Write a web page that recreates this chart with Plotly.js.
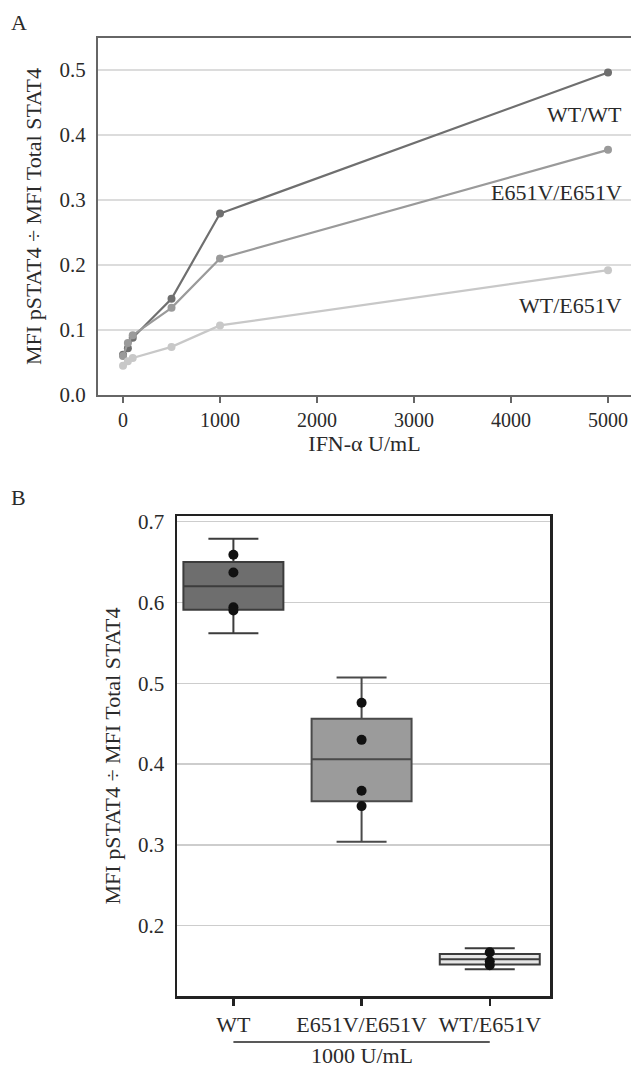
<!DOCTYPE html>
<html>
<head>
<meta charset="utf-8">
<script src="https://cdn.plot.ly/plotly-3.0.1.min.js"></script>
<style>html,body{margin:0;padding:0;background:#fff;}#chart{width:631px;height:1068px;}</style>
</head>
<body>
<div id="chart"></div>
<script>
// Panel A: dose response
const doses = [0, 50, 100, 500, 1000, 5000];
const wtWt = [0.062, 0.072, 0.088, 0.148, 0.279, 0.496];
const homMut = [0.060, 0.080, 0.092, 0.134, 0.210, 0.377];
const hetMut = [0.045, 0.052, 0.057, 0.074, 0.107, 0.192];
const seriesNames = ['WT/WT', 'E651V/E651V', 'WT/E651V'];

// Panel B: box plots at 1000 U/mL
const groups = ['WT', 'E651V/E651V', 'WT/E651V'];
const q1 = [0.591, 0.354, 0.152];
const medians = [0.620, 0.406, 0.1585];
const q3 = [0.650, 0.456, 0.165];
const lowerFence = [0.562, 0.304, 0.146];
const upperFence = [0.679, 0.507, 0.172];
const wtPoints = [0.659, 0.637, 0.594, 0.590];
const homPoints = [0.476, 0.430, 0.367, 0.348];
const hetPoints = [0.167, 0.156, 0.151];

const FONT = 'Liberation Serif, Times New Roman, serif';
const TXT = '#2a2a2a';
const H = 1068, W = 631;
const py = v => 1 - v / H;
const px = v => v / W;

const lineColors = ['#6f6f6f', '#9a9a9a', '#c8c8c8'];
const lineData = [wtWt, homMut, hetMut];
const traces = lineData.map((ys, i) => ({
  type: 'scatter', mode: 'lines+markers', x: doses, y: ys, name: seriesNames[i],
  xaxis: 'x', yaxis: 'y',
  line: {color: lineColors[i], width: 2.2},
  marker: {color: lineColors[i], size: 8},
  showlegend: false, hoverinfo: 'skip'
}));

const boxFill = ['#6e6e6e', '#9b9b9b', '#e6e6e6'];
const boxLine = ['#3c3c3c', '#4a4a4a', '#3c3c3c'];
groups.forEach((g, i) => {
  traces.push({
    type: 'box', xaxis: 'x2', yaxis: 'y2', x: [g],
    q1: [q1[i]], median: [medians[i]], q3: [q3[i]],
    lowerfence: [lowerFence[i]], upperfence: [upperFence[i]],
    fillcolor: boxFill[i], line: {color: boxLine[i], width: 2},
    width: 0.78, whiskerwidth: 0.5, boxpoints: false,
    showlegend: false, hoverinfo: 'skip'
  });
});
const ptsAll = [wtPoints, homPoints, hetPoints];
ptsAll.forEach((pts, i) => {
  traces.push({
    type: 'scatter', mode: 'markers', xaxis: 'x2', yaxis: 'y2',
    x: pts.map(() => groups[i]), y: pts,
    marker: {color: '#111', size: 10},
    showlegend: false, hoverinfo: 'skip'
  });
});

const layout = {
  width: W, height: H,
  margin: {l: 0, r: 0, t: 0, b: 0},
  paper_bgcolor: '#fff', plot_bgcolor: '#fff',
  font: {family: FONT, color: TXT, size: 21},
  showlegend: false,
  boxmode: 'overlay',
  xaxis: {
    domain: [px(98), 1], anchor: 'y',
    range: [-258, 5237], tickvals: [0, 1000, 2000, 3000, 4000, 5000],
    ticks: 'outside', ticklen: 6, tickwidth: 2, tickcolor: '#666',
    showline: true, linecolor: '#666', linewidth: 2, mirror: true,
    showgrid: false, zeroline: false,
    tickfont: {family: FONT, size: 20, color: TXT},
    title: {text: 'IFN-α U/mL', font: {family: FONT, size: 22, color: TXT}, standoff: 5}
  },
  yaxis: {
    domain: [py(395), py(38)], anchor: 'x',
    range: [0, 0.549], tickvals: [0, 0.1, 0.2, 0.3, 0.4, 0.5], tickformat: '.1f',
    ticks: '', ticklabelstandoff: 6,
    showline: true, linecolor: '#666', linewidth: 2,
    showgrid: true, gridcolor: '#dcdcdc', gridwidth: 2, zeroline: false,
    tickfont: {family: FONT, size: 21, color: TXT},
    title: {text: 'MFI pSTAT4 ÷ MFI Total STAT4', font: {family: FONT, size: 22, color: TXT}, standoff: 12}
  },
  xaxis2: {
    domain: [px(177), px(550)], anchor: 'y2', type: 'category',
    categoryorder: 'array', categoryarray: groups,
    range: [-0.44, 2.47],
    ticks: 'outside', ticklen: 7, tickwidth: 2.5, tickcolor: '#222',
    showline: true, linecolor: '#222', linewidth: 2.5, mirror: true,
    showgrid: false, zeroline: false,
    tickfont: {family: FONT, size: 22, color: TXT}
  },
  yaxis2: {
    domain: [py(996), py(516)], anchor: 'x2',
    range: [0.113, 0.707], tickvals: [0.2, 0.3, 0.4, 0.5, 0.6, 0.7], tickformat: '.1f',
    ticks: '', ticklabelstandoff: 6,
    showline: true, linecolor: '#222', linewidth: 2.5, mirror: true,
    showgrid: true, gridcolor: '#cdcdcd', gridwidth: 1.5, zeroline: false,
    tickfont: {family: FONT, size: 21, color: TXT},
    title: {text: 'MFI pSTAT4 ÷ MFI Total STAT4', font: {family: FONT, size: 22, color: TXT}, standoff: 12}
  },
  annotations: [
    {text: 'A', xref: 'paper', yref: 'paper', x: px(9), y: py(23), xanchor: 'left', yanchor: 'middle', showarrow: false, font: {family: FONT, size: 22, color: TXT}},
    {text: 'B', xref: 'paper', yref: 'paper', x: px(9), y: py(498), xanchor: 'left', yanchor: 'middle', showarrow: false, font: {family: FONT, size: 22, color: TXT}},
    {text: seriesNames[0], xref: 'paper', yref: 'paper', x: px(624), y: py(115), xanchor: 'right', yanchor: 'middle', showarrow: false, font: {family: FONT, size: 22, color: TXT}},
    {text: seriesNames[1], xref: 'paper', yref: 'paper', x: px(624), y: py(193), xanchor: 'right', yanchor: 'middle', showarrow: false, font: {family: FONT, size: 22, color: TXT}},
    {text: seriesNames[2], xref: 'paper', yref: 'paper', x: px(624), y: py(305), xanchor: 'right', yanchor: 'middle', showarrow: false, font: {family: FONT, size: 22, color: TXT}},
    {text: '1000 U/mL', xref: 'x2', yref: 'paper', x: groups[1], y: py(1055), xanchor: 'center', yanchor: 'middle', showarrow: false, font: {family: FONT, size: 22, color: TXT}}
  ],
  shapes: [
    {type: 'line', xref: 'x2', yref: 'paper', x0: 0, x1: 2, y0: py(1042), y1: py(1042), line: {color: '#222', width: 1.5}}
  ]
};

Plotly.newPlot('chart', traces, layout, {staticPlot: true, displayModeBar: false});
</script>
</body>
</html>
